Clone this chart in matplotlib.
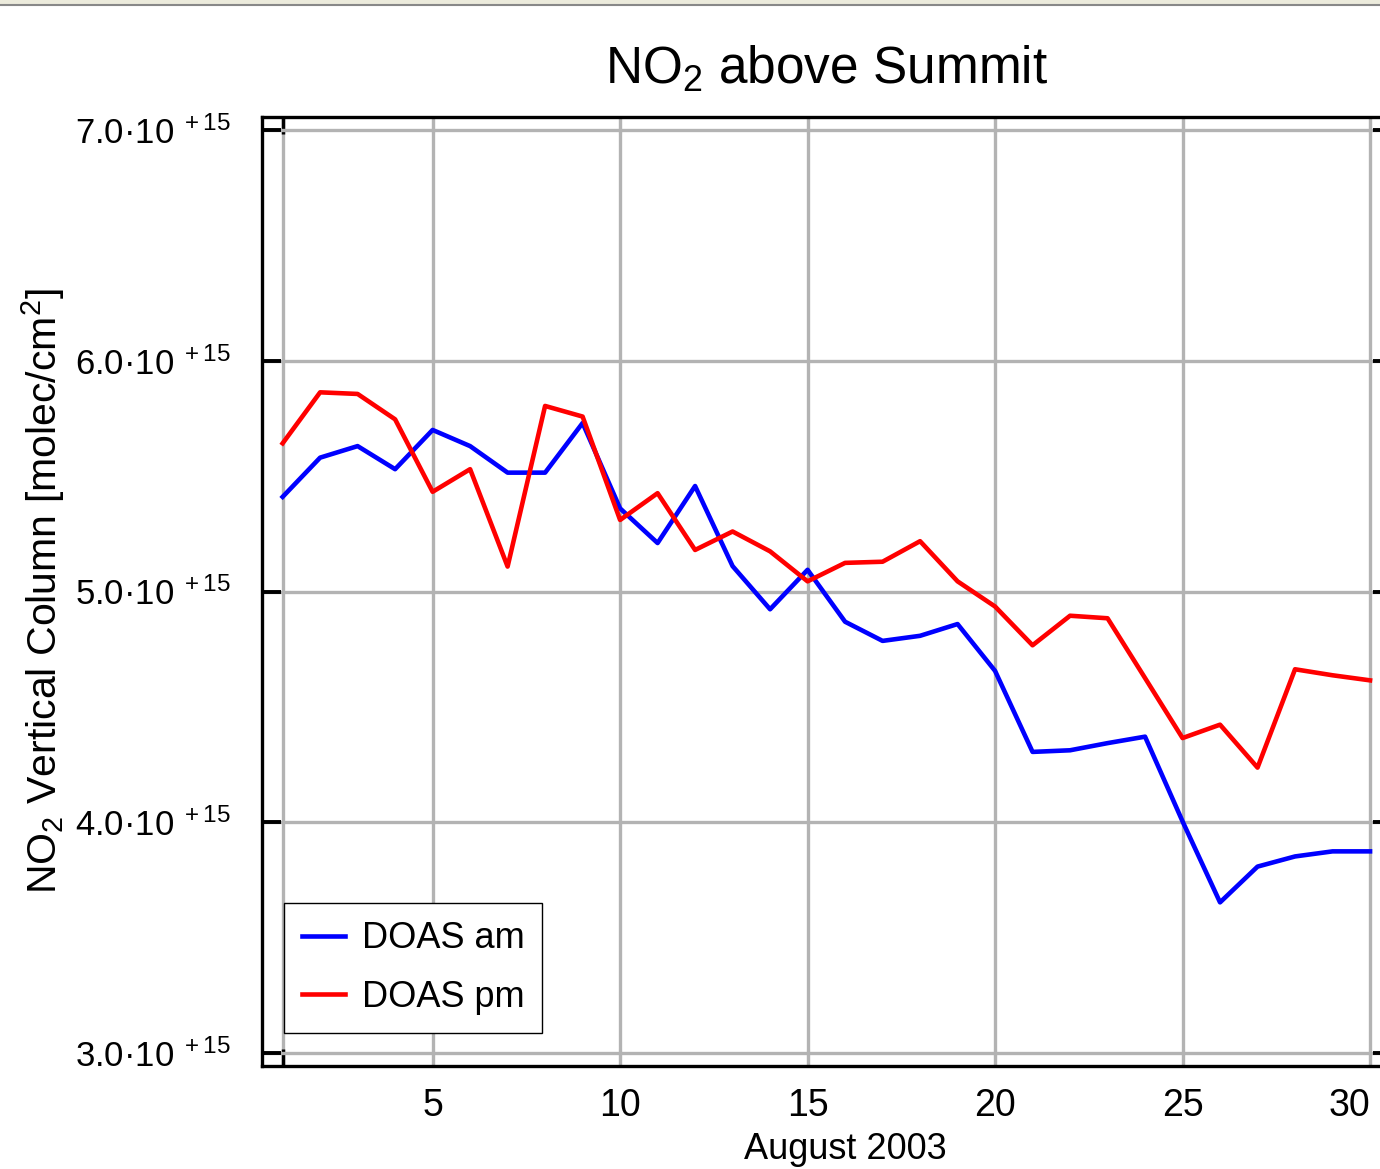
import matplotlib
matplotlib.use("Agg")
import matplotlib.pyplot as plt
from matplotlib.lines import Line2D
from matplotlib.patches import Rectangle

# daily values, August 2003 (units of 1e15 molec/cm2)
days = list(range(1, 31))
doas_am = [5.41, 5.58, 5.63, 5.53, 5.70, 5.63, 5.515, 5.515, 5.73, 5.36,
           5.21, 5.457, 5.11, 4.923, 5.094, 4.869, 4.786, 4.808, 4.859, 4.656,
           4.305, 4.312, 4.343, 4.371, 4.004, 3.653, 3.808, 3.852, 3.874, 3.874]
doas_pm = [5.642, 5.863, 5.856, 5.746, 5.432, 5.53, 5.108, 5.804, 5.758, 5.31,
           5.426, 5.18, 5.26, 5.174, 5.044, 5.124, 5.129, 5.218, 5.044, 4.935,
           4.767, 4.895, 4.884, 4.625, 4.365, 4.423, 4.237, 4.663, 4.637, 4.615]
x_ticks = [5, 10, 15, 20, 25, 30]
y_ticks = [3.0, 4.0, 5.0, 6.0, 7.0]

plt.rcParams['font.family'] = ['Liberation Sans', 'DejaVu Sans']
plt.rcParams['mathtext.fontset'] = 'custom'
plt.rcParams['mathtext.rm'] = 'Liberation Sans'
plt.rcParams['mathtext.it'] = 'Liberation Sans'

fig = plt.figure(figsize=(13.8, 11.69), dpi=100)
# axes runs slightly past the right edge of the picture, like the original
ax = fig.add_axes([262/1380, 1 - 1066/1169, 1130/1380, 949/1169])

ax.plot(days, doas_am, color='#0000ff', lw=3.3, label='DOAS am')
ax.plot(days, doas_pm, color='#ff0000', lw=3.3, label='DOAS pm')

ax.set_xlim(0.45, 30.586)
ax.set_ylim(2.944, 7.056)

ax.set_xticks(x_ticks)
ax.set_xticks([1], minor=True)
ax.set_yticks(y_ticks)
ax.set_yticklabels([f'{v:.1f}·10$^{{\\ +15}}$' for v in y_ticks])
ax.tick_params(axis='x', which='major', direction='in', length=12, width=2.2,
               color='#b3b3b3', top=True, labelsize=27, pad=16)
ax.tick_params(axis='x', which='minor', direction='in', length=12, width=2.5,
               color='black', top=True)
ax.tick_params(axis='y', direction='in', length=14, width=2.8, right=True,
               labelsize=25, pad=22)
ax.get_xticklabels()[-1].set_horizontalalignment('right')
ax.grid(True, which='both', color='#b3b3b3', lw=2.4)
ax.set_axisbelow(True)
for s in ax.spines.values():
    s.set_linewidth(2.4)

ax.set_title('NO$_2$ above Summit', fontsize=37, pad=24)
ax.set_xlabel('August 2003', fontsize=26)
ax.xaxis.set_label_coords(0.516, -0.07)
ax.set_ylabel('NO$_2$ Vertical Column [molec/cm$^2$]', fontsize=29.5)
ax.yaxis.set_label_coords(-0.173, 0.5)

leg = ax.legend(loc='lower left', bbox_to_anchor=(22/1130, 33/949),
                borderaxespad=0, fontsize=26, fancybox=False, framealpha=1,
                edgecolor='black', handlelength=1.2, handletextpad=0.45,
                borderpad=0.5, labelspacing=0.65)
leg.get_frame().set_linewidth(1.0)

# window border strip at the top
fig.add_artist(Rectangle((0, 1 - 4/1169), 1, 4/1169, transform=fig.transFigure,
                         color='#ecebdc', lw=0))
fig.add_artist(Line2D([0, 1], [1 - 5/1169, 1 - 5/1169], transform=fig.transFigure,
                      color='#888888', lw=1.5))

fig.savefig('out.png', dpi=100)
